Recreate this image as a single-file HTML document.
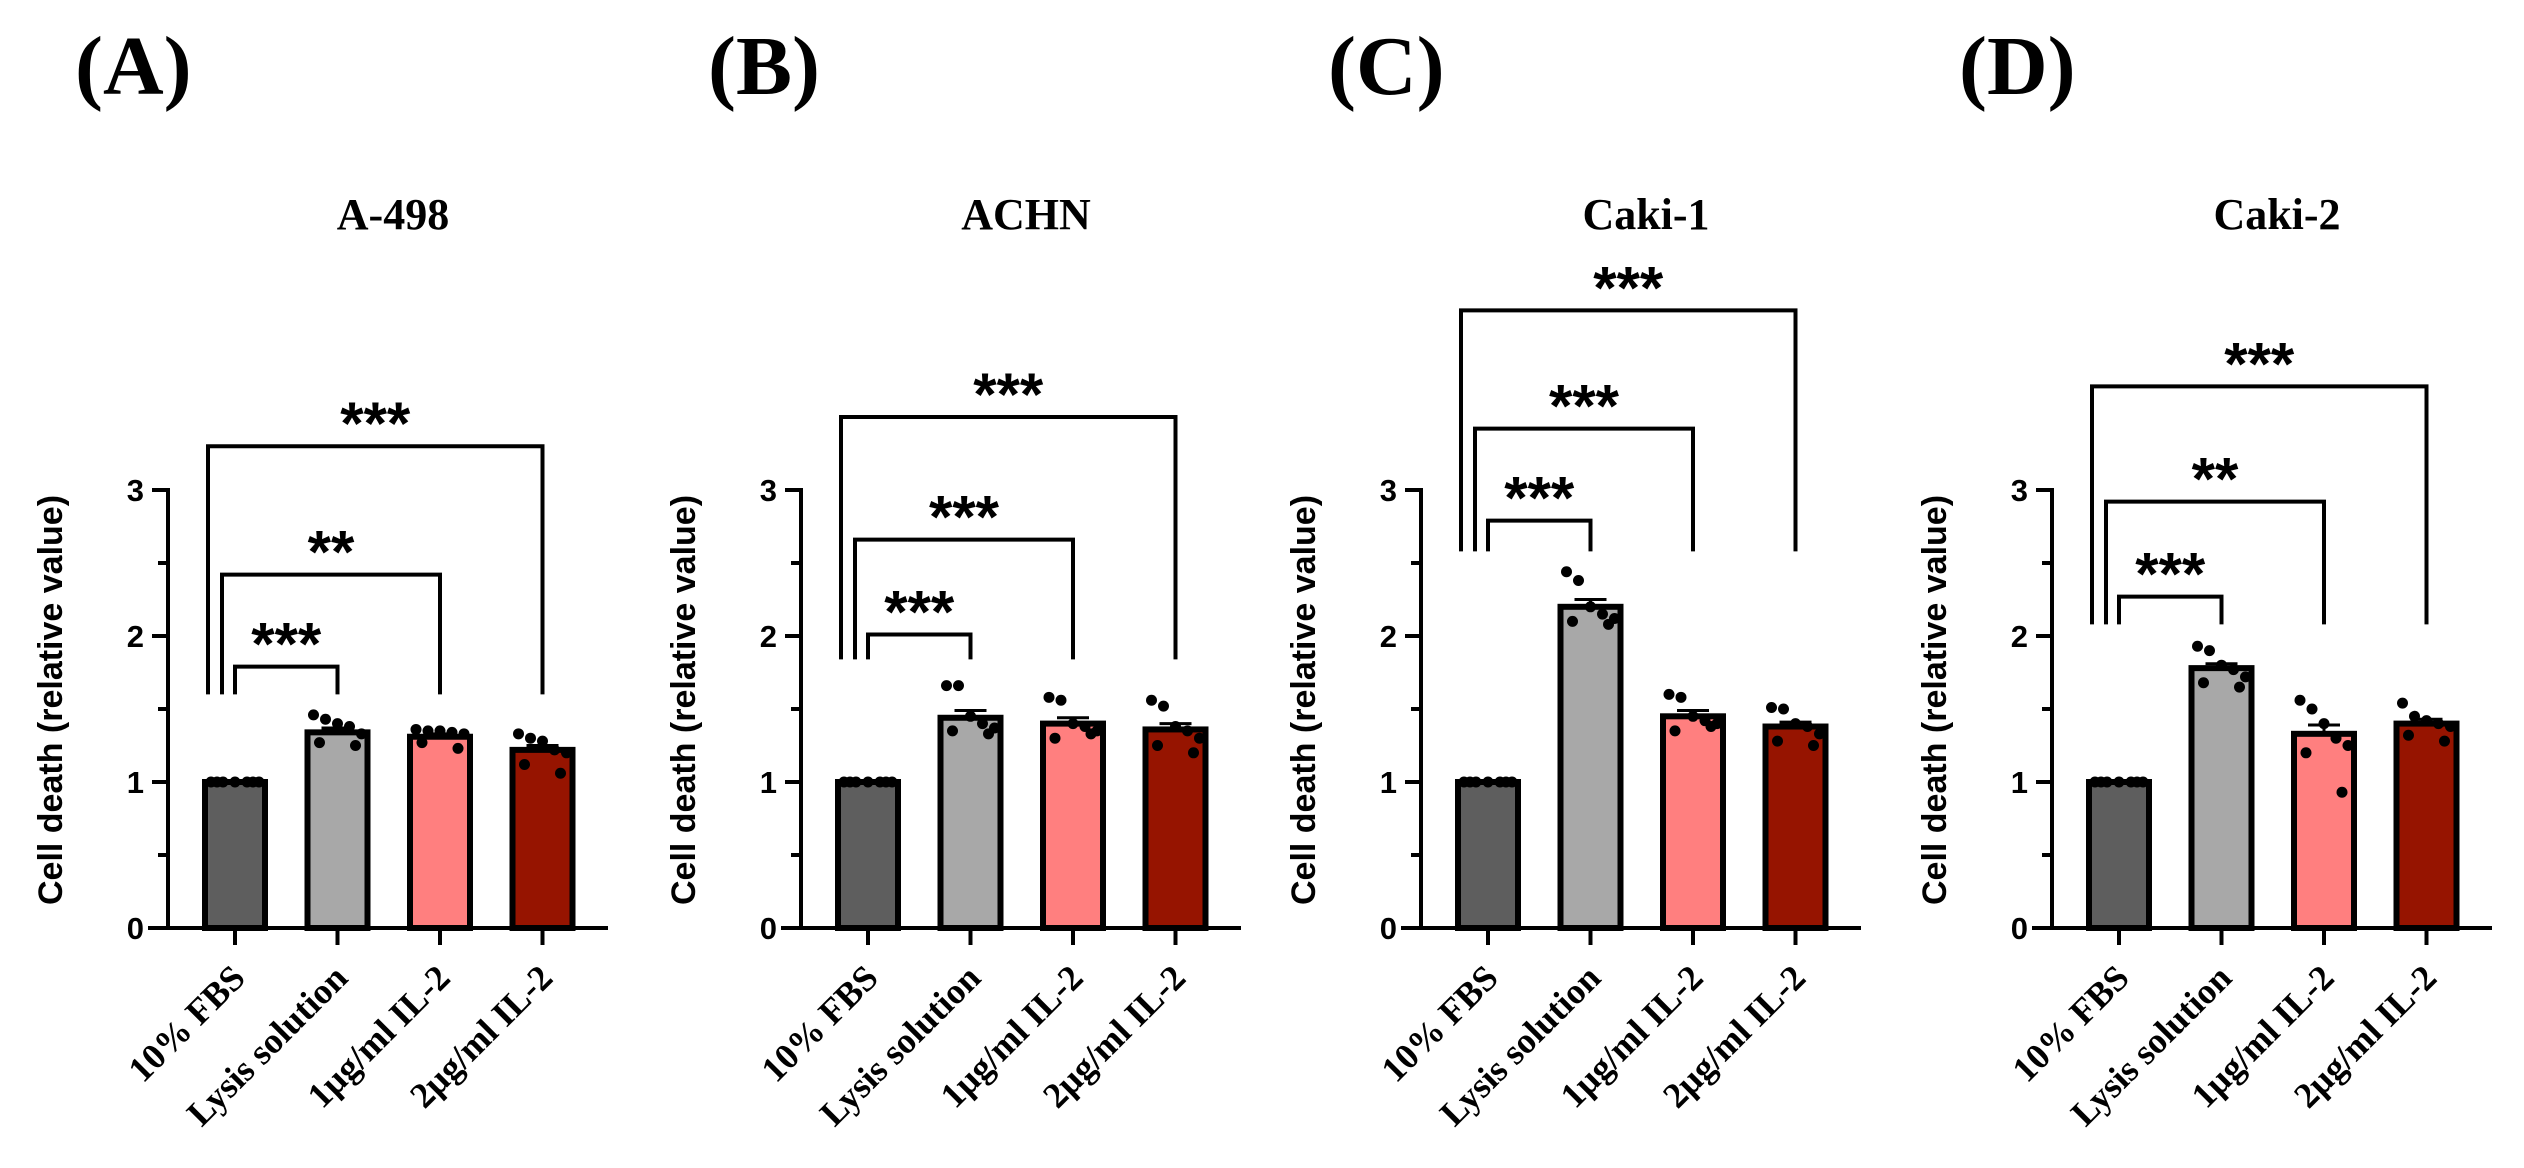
<!DOCTYPE html>
<html><head><meta charset="utf-8"><style>
html,body{margin:0;padding:0;background:#fff;}
svg{display:block;}
.sans{font-family:"Liberation Sans",Arial,sans-serif;font-weight:bold;}
.serif{font-family:"Liberation Serif","Times New Roman",serif;font-weight:bold;}
</style></head><body>
<svg id="fig" width="2524" height="1168" viewBox="0 0 2524 1168" xmlns="http://www.w3.org/2000/svg"></svg>
<script>
const panelLetters = ["(A)", "(B)", "(C)", "(D)"];
const cellLines = ["A-498", "ACHN", "Caki-1", "Caki-2"];
const categories = ["10% FBS", "Lysis solution", "1\u00b5g/ml IL-2", "2\u00b5g/ml IL-2"];
const yTicks = [0, 1, 2, 3];
const yMinorTicks = [0.5, 1.5, 2.5];
const meansA = [1, 1.34, 1.31, 1.22];
const meansB = [1, 1.44, 1.40, 1.36];
const meansC = [1, 2.20, 1.45, 1.38];
const meansD = [1, 1.78, 1.33, 1.40];
const semA = [0, 0.03, 0.02, 0.03];
const semB = [0, 0.05, 0.04, 0.04];
const semC = [0, 0.05, 0.04, 0.03];
const semD = [0, 0.03, 0.06, 0.03];
const pointsA = [[1,1,1,1,1,1,1],[1.46,1.43,1.40,1.38,1.33,1.27,1.25],[1.36,1.35,1.35,1.34,1.33,1.27,1.23],[1.33,1.30,1.28,1.22,1.20,1.12,1.06]];
const pointsB = [[1,1,1,1,1,1,1],[1.66,1.66,1.45,1.40,1.37,1.35,1.33],[1.58,1.56,1.40,1.38,1.35,1.30,1.33],[1.56,1.52,1.38,1.35,1.30,1.25,1.20]];
const pointsC = [[1,1,1,1,1,1,1],[2.44,2.38,2.20,2.15,2.12,2.10,2.08],[1.60,1.58,1.45,1.42,1.40,1.35,1.38],[1.51,1.50,1.40,1.38,1.33,1.28,1.25]];
const pointsD = [[1,1,1,1,1,1,1],[1.93,1.90,1.80,1.77,1.72,1.68,1.65],[1.56,1.50,1.40,1.30,1.25,1.20,0.93],[1.54,1.45,1.42,1.40,1.38,1.32,1.28]];
const sigLabelsA = ["***", "**", "***"];
const sigLabelsB = ["***", "***", "***"];
const sigLabelsC = ["***", "***", "***"];
const sigLabelsD = ["***", "**", "***"];
const bracketLevelsA = [1.79, 2.42, 3.30];
const bracketLevelsB = [2.01, 2.66, 3.50];
const bracketLevelsC = [2.79, 3.42, 4.23];
const bracketLevelsD = [2.27, 2.92, 3.71];
const legLevels = [1.60, 1.84, 2.58, 2.08];

const allMeans = [meansA, meansB, meansC, meansD];
const allSem = [semA, semB, semC, semD];
const allPoints = [pointsA, pointsB, pointsC, pointsD];
const allSig = [sigLabelsA, sigLabelsB, sigLabelsC, sigLabelsD];
const allBrackets = [bracketLevelsA, bracketLevelsB, bracketLevelsC, bracketLevelsD];

const axisXs = [168, 801, 1421, 2052];
const Y0 = 928, UNIT = 146;
const colors = ["#5e5e5e", "#a8a8a8", "#ff7f7f", "#961400"];
const jitter = [-24, -12, 0, 12, 24, -18, 18];
const NS = "http://www.w3.org/2000/svg";
const svg = document.getElementById("fig");

function yScale(v){ return Y0 - v * UNIT; }
function mk(tag, attrs, parent){
  const e = document.createElementNS(NS, tag);
  for (const k in attrs) e.setAttribute(k, attrs[k]);
  (parent || svg).appendChild(e);
  return e;
}

for (let p = 0; p < 4; p++){
  const ax = axisXs[p];
  const xScale = i => ax + 67 + i * 102.5;
  const g = mk("g", {});
  
  

  const lab = mk("text", {x: ax - 93, y: 94, "font-size": 84, class: "serif"}, g);
  lab.textContent = panelLetters[p];
  
  

  const ttl = mk("text", {x: ax + 225, y: 229, "font-size": 44, class: "serif", "text-anchor": "middle"}, g);
  ttl.textContent = cellLines[p];
  
  

  const yl = mk("text", {x: 0, y: 0, "font-size": 34, class: "sans", "text-anchor": "middle", transform: `translate(${ax - 106},700) rotate(-90)`}, g);
  yl.textContent = "Cell death (relative value)";
  
  

  for (let i = 0; i < 4; i++){
    const cx = xScale(i), top = yScale(allMeans[p][i]);
    const r = mk("rect", {x: cx - 30, y: top, width: 60, height: Y0 - top, fill: colors[i], stroke: "#000", "stroke-width": 6}, g);
    
    
    const s = allSem[p][i];
    if (s > 0){
      const eb = mk("path", {d: `M${cx},${top} V${yScale(allMeans[p][i] + s)} M${cx - 16},${yScale(allMeans[p][i] + s)} H${cx + 16}`, stroke: "#000", "stroke-width": 3, fill: "none"}, g);
      
      
    }
    allPoints[p][i].forEach((v, k) => {
      const c = mk("circle", {cx: cx + jitter[k], cy: yScale(v), r: 5.5, fill: "#000"}, g);
      
      
    });
    const xt = mk("line", {x1: cx, x2: cx, y1: Y0, y2: Y0 + 17, stroke: "#000", "stroke-width": 4}, g);
    
    
    const tl = mk("text", {x: 0, y: 0, "font-size": 36, class: "serif", "text-anchor": "end", transform: `translate(${cx + 12},${Y0 + 52}) rotate(-45)`}, g);
    tl.textContent = categories[i];
    
    
  }

  const yAxis = mk("line", {x1: ax, x2: ax, y1: yScale(3) - 2, y2: Y0, stroke: "#000", "stroke-width": 4}, g);
  
  
  const xAxis = mk("line", {x1: ax - 20, x2: ax + 440, y1: Y0, y2: Y0, stroke: "#000", "stroke-width": 4}, g);
  
  
  yTicks.forEach(t => {
    const l = mk("line", {x1: ax - 16, x2: ax, y1: yScale(t), y2: yScale(t), stroke: "#000", "stroke-width": 4}, g);
    
    
    const tx = mk("text", {x: ax - 24, y: yScale(t) + 11, "font-size": 31, class: "sans", "text-anchor": "end"}, g);
    tx.textContent = t;
    
    
  });
  yMinorTicks.forEach(t => {
    const l = mk("line", {x1: ax - 10, x2: ax, y1: yScale(t), y2: yScale(t), stroke: "#000", "stroke-width": 4}, g);
    
    
  });

  const offsets = [0, -13, -27];
  for (let b = 0; b < 3; b++){
    const lv = yScale(allBrackets[p][b]);
    const xl = xScale(0) + offsets[b], xr = xScale(b + 1);
    const legBottom = yScale(legLevels[p]);
    const br = mk("path", {d: `M${xl},${legBottom} V${lv} H${xr} V${legBottom}`, stroke: "#000", "stroke-width": 4, fill: "none"}, g);
    
    
    const st = mk("text", {x: (xl + xr) / 2, y: lv - 2, "font-size": 60, class: "sans", "text-anchor": "middle"}, g);
    st.textContent = allSig[p][b];
    
    
  }
}
</script>
</body></html>
